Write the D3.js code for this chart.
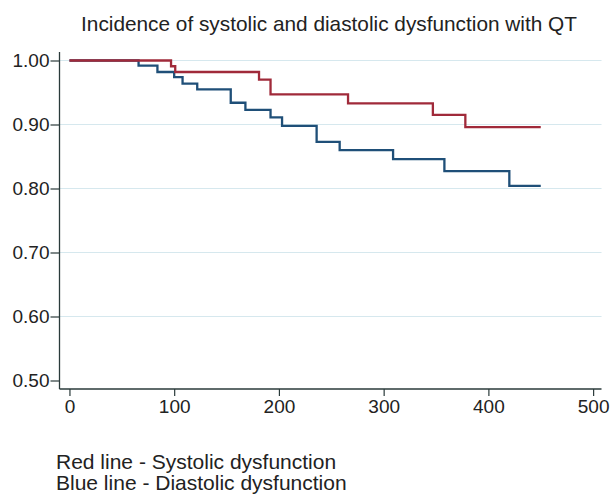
<!DOCTYPE html>
<html><head><meta charset="utf-8">
<script src="https://cdn.jsdelivr.net/npm/d3@7"></script>
<style>body{margin:0;background:#fff;} text{font-family:"Liberation Sans",Arial,sans-serif;fill:#222;}</style>
</head><body>
<svg id="c" width="611" height="495"></svg>
<script>
const title = "Incidence of systolic and diastolic dysfunction with QT";
const notes = ["Red line - Systolic dysfunction", "Blue line - Diastolic dysfunction"];
const xTicks = [0, 100, 200, 300, 400, 500];
const yTicks = [0.5, 0.6, 0.7, 0.8, 0.9, 1.0];
const gridVals = [0.6, 0.7, 0.8, 0.9, 1.0];
// Systolic dysfunction (red)
const sysTime = [0, 97, 101, 181, 192, 266, 347, 378];
const sysSurv = [1, 0.991, 0.982, 0.970, 0.947, 0.933, 0.915, 0.896];
const sysEnd = 450;
// Diastolic dysfunction (blue)
const diaTime = [0, 66, 84, 100, 108, 122, 154, 168, 192, 203, 236, 258, 309, 358, 420];
const diaSurv = [1, 0.992, 0.982, 0.974, 0.964, 0.955, 0.934, 0.923, 0.911, 0.898, 0.873, 0.860, 0.846, 0.827, 0.804];
const diaEnd = 450;

const svg = d3.select("#c");
const x = d3.scaleLinear().domain([-9.5, 508]).range([59.5, 601.5]);
const y = d3.scaleLinear().domain([0.5, 1.0]).range([380.5, 60.5]);
const axisTop = 52, axisBottom = 389;

svg.append("text").attr("x", 329).attr("y", 31).attr("text-anchor", "middle")
  .style("font-size", "20.8px").text(title);

// gridlines
svg.append("g").selectAll("line").data(gridVals).join("line")
  .attr("x1", x(-9.5)).attr("x2", x(508)).attr("y1", d => y(d)).attr("y2", d => y(d))
  .attr("stroke", "#d6e8ee").attr("stroke-width", 1.2);

// y axis
const ya = svg.append("g").attr("transform", `translate(${x(-9.5)},0)`)
  .call(d3.axisLeft(y).tickValues(yTicks).tickFormat(d3.format(".2f")).tickSize(9).tickSizeOuter(0));
ya.select(".domain").remove();
ya.append("line").attr("x1", 0).attr("x2", 0).attr("y1", axisTop).attr("y2", axisBottom).attr("stroke", "#2a3a3a").attr("stroke-width", 1.3);
ya.selectAll(".tick line").attr("stroke", "#2a3a3a").attr("stroke-width", 1.2);
ya.selectAll(".tick text").style("font-size", "19px").attr("x", -10).attr("fill", "#222");

// x axis
const xa = svg.append("g").attr("transform", `translate(0,${axisBottom})`)
  .call(d3.axisBottom(x).tickValues(xTicks).tickFormat(d3.format("d")).tickSize(7).tickSizeOuter(0));
xa.select(".domain").remove();
xa.append("line").attr("x1", x(-9.5)).attr("x2", x(508)).attr("stroke", "#2a3a3a").attr("stroke-width", 1.3);
xa.selectAll(".tick line").attr("stroke", "#2a3a3a").attr("stroke-width", 1.2);
xa.selectAll(".tick text").style("font-size", "19px").attr("y", 11).attr("fill", "#222");

function stepPts(times, surv, end) {
  const pts = times.map((t, i) => [t, surv[i]]);
  pts.push([end, surv[surv.length - 1]]);
  return pts;
}
const line = d3.line().x(d => x(d[0])).y(d => y(d[1])).curve(d3.curveStepAfter);
svg.append("path").datum(stepPts(diaTime, diaSurv, diaEnd)).attr("d", line)
  .attr("fill", "none").attr("stroke", "#1f4f78").attr("stroke-width", 2.3);
svg.append("path").datum(stepPts(sysTime, sysSurv, sysEnd)).attr("d", line)
  .attr("fill", "none").attr("stroke", "#a02a3a").attr("stroke-width", 2.3);

svg.append("g").selectAll("text").data(notes).join("text")
  .attr("x", 56).attr("y", (d, i) => 469 + i * 21).style("font-size", "21px").text(d => d);
</script>
</body></html>
